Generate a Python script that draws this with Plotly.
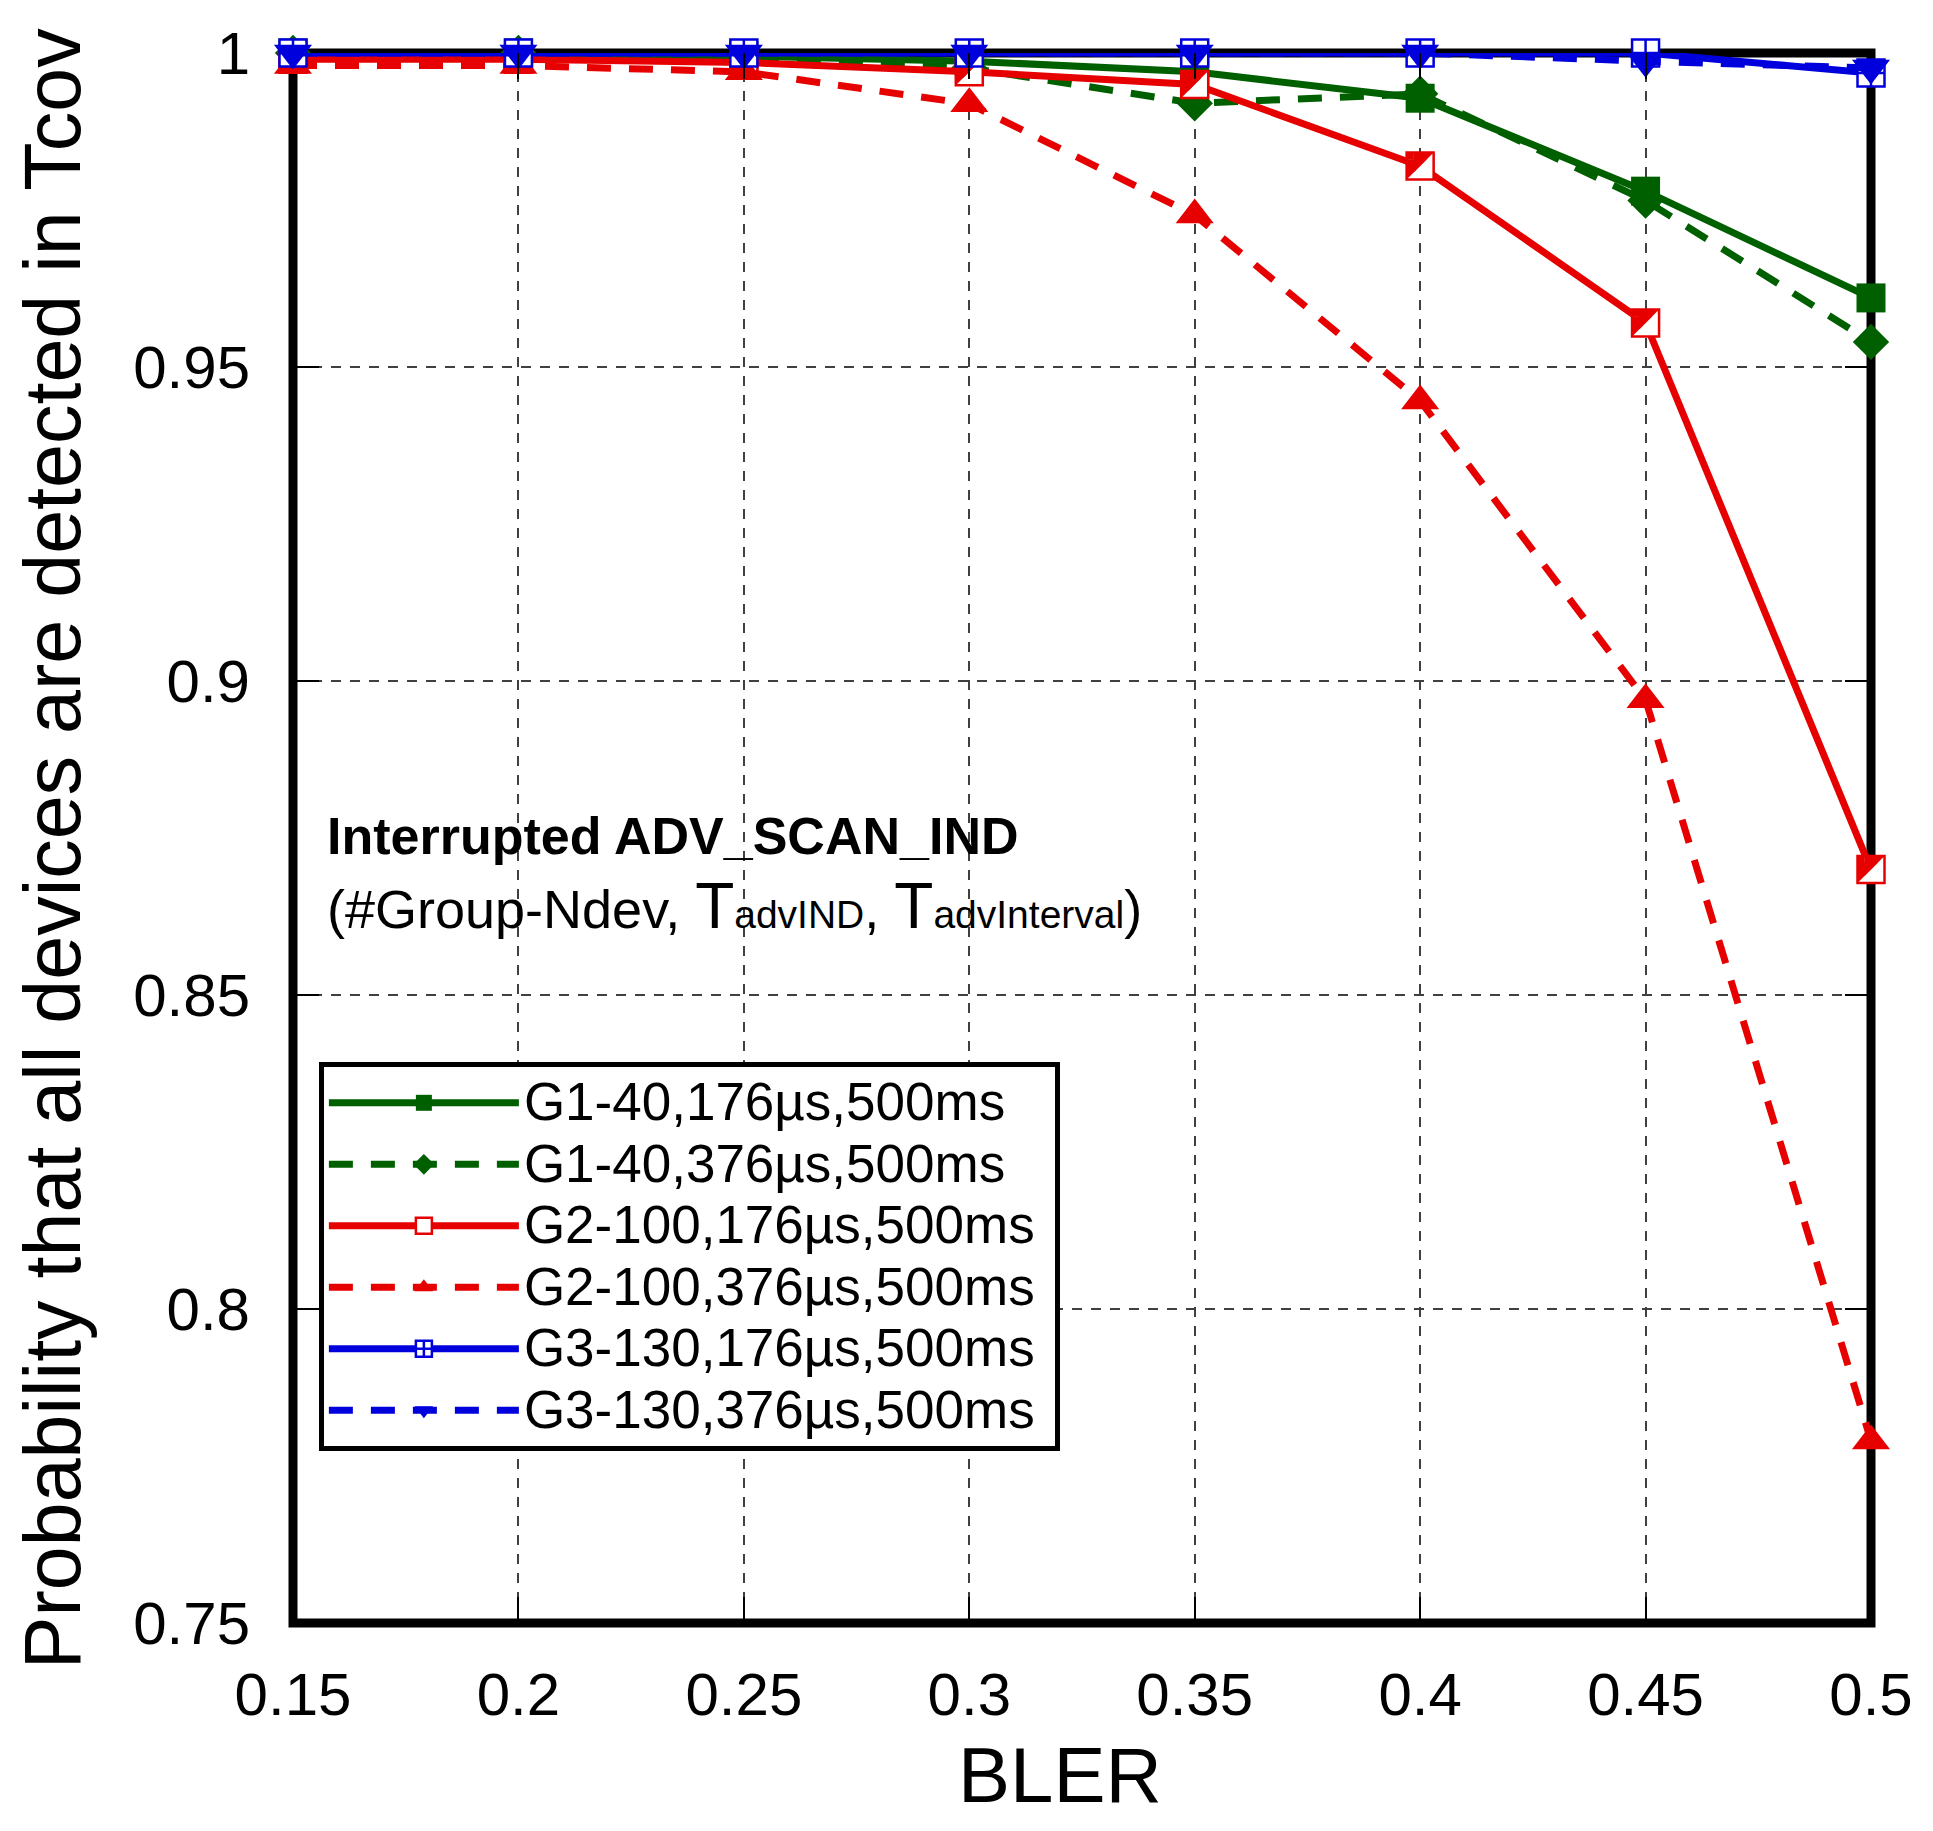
import plotly.graph_objects as go

bler = [0.15, 0.2, 0.25, 0.3, 0.35, 0.4, 0.45, 0.5]
x_ticks = [0.15, 0.2, 0.25, 0.3, 0.35, 0.4, 0.45, 0.5]
x_ticktext = ["0.15", "0.2", "0.25", "0.3", "0.35", "0.4", "0.45", "0.5"]
y_ticks = [0.75, 0.8, 0.85, 0.9, 0.95, 1.0]
y_ticktext = ["0.75", "0.8", "0.85", "0.9", "0.95", "1"]

g1_176 = [1.0, 1.0, 0.9995, 0.9987, 0.997, 0.9928, 0.978, 0.961]
g1_376 = [1.0, 1.0, 0.999, 0.9976, 0.992, 0.9935, 0.9765, 0.954]
g2_176 = [0.999, 0.999, 0.9985, 0.997, 0.995, 0.982, 0.957, 0.870]
g2_376 = [0.998, 0.998, 0.997, 0.9919, 0.9742, 0.9446, 0.897, 0.779]
g3_176 = [1.0, 1.0, 1.0, 1.0, 1.0, 1.0, 1.0, 0.9968]
g3_376 = [1.0, 1.0, 1.0, 1.0, 1.0, 1.0, 0.9987, 0.9976]

labels = ["G1-40,176µs,500ms", "G1-40,376µs,500ms", "G2-100,176µs,500ms",
          "G2-100,376µs,500ms", "G3-130,176µs,500ms", "G3-130,376µs,500ms"]
names = ["<span style='font-size:53px'>" + s + "\u00a0</span>" for s in labels]

GREEN = "#006000"
RED = "#E60000"
BLUE = "#0000DC"
FONT = "Liberation Sans, Arial, sans-serif"
LW = 7
DASH = "24px,18px"

fig = go.Figure()

def add(y, name, color, dash, symbol, size, fill=None, mline=0):
    fig.add_trace(go.Scatter(
        x=bler, y=y, name=name, mode="lines+markers", cliponaxis=False,
        line=dict(color=color, width=LW, dash=dash),
        marker=dict(symbol=symbol, size=size, color=fill if fill else color,
                    line=dict(color=color, width=mline)),
    ))

def overlay(y, color, symbol, size, angle, standoff):
    fig.add_trace(go.Scatter(
        x=bler, y=y, mode="markers", showlegend=False, cliponaxis=False, hoverinfo="skip",
        marker=dict(symbol=symbol, size=size, color=color, angle=angle,
                    standoff=standoff, line=dict(width=0)),
    ))

add(g1_176, names[0], GREEN, "solid", "square", 29)
add(g1_376, names[1], GREEN, DASH, "diamond", 28)

# G2-100,176: white square with red outline, upper-left half filled red
SQ = 27
half = SQ / 2
add(g2_176, names[2], RED, "solid", "square", SQ, fill="white", mline=2.5)
overlay(g2_176, RED, "triangle-se", half / 0.6, 180, half / 2)
overlay(g2_176, RED, "triangle-sw", half / 0.6, 90, half / 2)
overlay(g2_176, RED, "diamond", 0.6 * half, 135, 0.75 * half * 2 ** 0.5)

add(g2_376, names[3], RED, DASH, "triangle-up", 33)
add(g3_176, names[4], BLUE, "solid", "square-cross", 27, fill="white", mline=2.5)
add(g3_376, names[5], BLUE, DASH, "triangle-down", 33)

axis_common = dict(
    showgrid=True, gridcolor="#404040", gridwidth=1.5, griddash="10px,9px",
    zeroline=False, showline=False, ticks="inside", ticklen=26, tickwidth=2,
    tickcolor="black", mirror="ticks", ticklabeloverflow="allow",
    tickfont=dict(family=FONT, size=60, color="black"),
)

fig.update_xaxes(range=[0.15, 0.5], tickvals=x_ticks, ticktext=x_ticktext,
                 ticklabelstandoff=31, **axis_common)
fig.update_yaxes(range=[0.75, 1.0], tickvals=y_ticks, ticktext=y_ticktext,
                 ticklabelstandoff=42, **axis_common)

fig.add_shape(type="rect", xref="paper", yref="paper", x0=0, x1=1, y0=0, y1=1,
              line=dict(color="black", width=9), layer="between")

fig.add_annotation(text="BLER", xref="paper", yref="paper", x=0.486, y=-0.097,
                   xanchor="center", yanchor="middle", showarrow=False,
                   font=dict(family=FONT, size=78, color="black"))
fig.add_annotation(text="Probability that all devices are detected in Tcov",
                   xref="paper", yref="paper", x=-0.1528, y=0.4934, textangle=-90,
                   xanchor="center", yanchor="middle", showarrow=False,
                   font=dict(family=FONT, size=79, color="black"))
fig.add_annotation(
    text=("<b><span style='font-size:52px'>Interrupted ADV_SCAN_IND</span></b><br>"
          "<span style='font-size:54px'>(#Group-Ndev, </span>"
          "<span style='font-size:64px'>T</span>"
          "<span style='font-size:39px'>advIND</span>"
          "<span style='font-size:54px'>, </span>"
          "<span style='font-size:64px'>T</span>"
          "<span style='font-size:39px'>advInterval</span>"
          "<span style='font-size:54px'>)</span>"),
    xref="paper", yref="paper", x=0.0205, y=0.4766, xanchor="left", yanchor="middle",
    align="left", showarrow=False, font=dict(family=FONT, size=57, color="black"))

fig.update_layout(
    width=1917, height=1815,
    margin=dict(l=285, r=48, t=33, b=200, pad=0),
    paper_bgcolor="white", plot_bgcolor="white",
    font=dict(family=FONT, color="black"),
    legend=dict(x=0.0164, y=0.2334, xanchor="left", yanchor="middle",
                bgcolor="white", bordercolor="black", borderwidth=5,
                font=dict(family=FONT, size=45, color="black"),
                itemwidth=190, tracegroupgap=0),
)

fig.write_html("out.html")
